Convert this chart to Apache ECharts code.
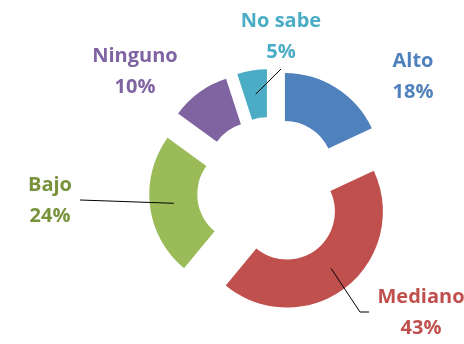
<!DOCTYPE html>
<html>
<head>
<meta charset="utf-8">
<script src="https://cdn.jsdelivr.net/npm/echarts@6/dist/echarts.min.js"></script>
<style>html,body{margin:0;padding:0;background:#fff}#c{width:464px;height:344px}</style>
</head>
<body>
<div id="c"></div>
<script>
// ---- data ----
const categories = ['Alto', 'Mediano', 'Bajo', 'Ninguno', 'No sabe'];
const values = [18, 43, 24, 10, 5];

// ---- styling / layout ----
const sliceColors = ['#4F81BD', '#C0504D', '#9BBB59', '#8064A2', '#4BACC6'];
const labelColors = ['#4F81BD', '#C0504D', '#77933C', '#8064A2', '#4BACC6'];
const showLine = [false, true, true, false, true];
const labelPos = [[413, 77], [421, 313], [50, 201], [135, 72], [281, 37]];
const CX = 271, CY = 191, R0 = 48, R1 = 96, OFF = 26;

const total = values.reduce((a, b) => a + b, 0);
function midDir(i) {
  let cum = 0;
  for (let k = 0; k < i; k++) cum += values[k];
  const a = ((cum + values[i] / 2) / total) * 2 * Math.PI;
  return [Math.sin(a), -Math.cos(a)];
}
function anchor(i) {
  const d = midDir(i), rr = OFF + (R0 + R1) / 2;
  return [CX + d[0] * rr, CY + d[1] * rr];
}

const chart = echarts.init(document.getElementById('c'), null, {renderer: 'canvas'});
chart.setOption({
  animation: false,
  series: [{
    type: 'pie',
    center: [CX, CY],
    radius: [R0, R1],
    startAngle: 90,
    clockwise: true,
    selectedMode: 'multiple',
    selectedOffset: OFF,
    emphasis: {disabled: true},
    silent: true,
    label: {show: false},
    labelLine: {show: false},
    data: categories.map((n, i) => ({
      name: n,
      value: values[i],
      selected: true,
      itemStyle: {color: sliceColors[i]}
    }))
  }, {
    type: 'pie',
    center: [CX, CY],
    radius: [R0, R1],
    startAngle: 90,
    clockwise: true,
    selectedMode: false,
    avoidLabelOverlap: false,
    emphasis: {disabled: true},
    silent: true,
    z: 3,
    itemStyle: {color: 'rgba(0,0,0,0)'},
    label: {
      show: true,
      position: 'outside',
      formatter: p => p.name + '\n' + p.value + '%',
      fontFamily: 'Open Sans',
      fontWeight: 'bold',
      fontSize: 20,
      lineHeight: 31,
      align: 'center'
    },
    labelLine: {show: true, lineStyle: {color: '#000', width: 1}},
    labelLayout: function (params) {
      const i = params.dataIndex;
      const p = labelPos[i];
      const res = {x: p[0], y: p[1], align: 'center', verticalAlign: 'middle'};
      if (showLine[i]) {
        const s = anchor(i);
        let pts;
        if (i === 1) pts = [s, [p[0] - 61, p[1] - 1], [p[0] - 52, p[1] - 1]];
        else if (i === 2) pts = [s, [p[0] + 30, p[1] - 1], [p[0] + 30, p[1] - 1]];
        else pts = [s, [p[0], p[1] + 32], [p[0], p[1] + 32]];
        res.labelLinePoints = pts;
      }
      return res;
    },
    data: categories.map((n, i) => ({
      name: n,
      value: values[i],
      label: {color: labelColors[i]},
      labelLine: {show: showLine[i]}
    }))
  }]
});
</script>
</body>
</html>
